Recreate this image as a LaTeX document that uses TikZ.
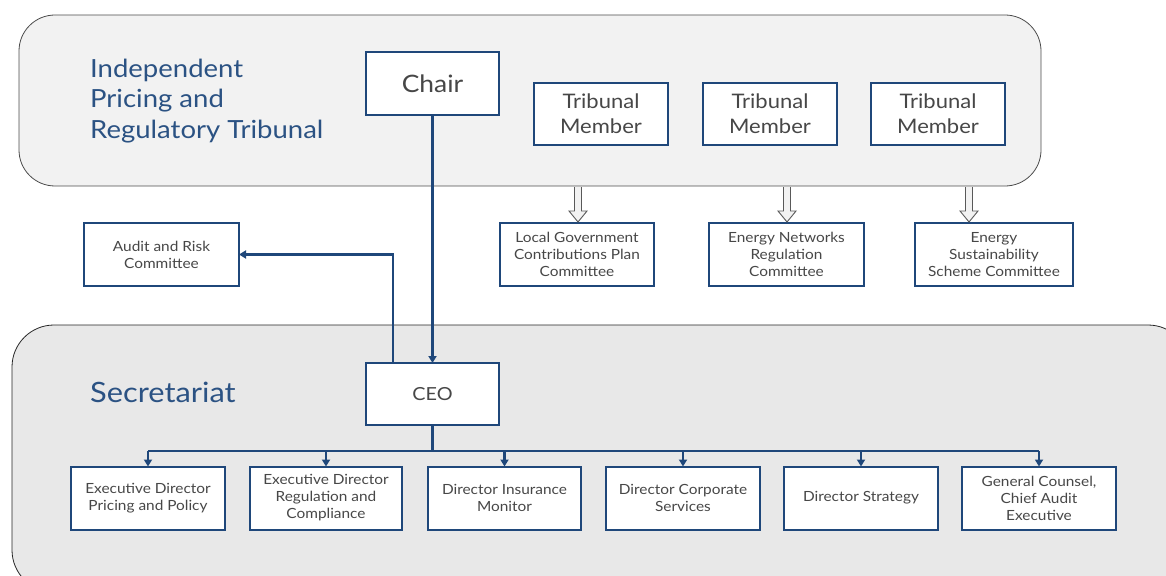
\documentclass[tikz,border=0pt]{standalone}
\usepackage{fontspec}
\setmainfont{Lato}[FakeStretch=1.1]
\usetikzlibrary{arrows.meta,calc}
\definecolor{boxblue}{HTML}{1F477A}
\definecolor{titleblue}{HTML}{2B5283}
\definecolor{txtgray}{HTML}{474747}
\definecolor{topfill}{HTML}{F2F2F2}
\definecolor{botfill}{HTML}{E8E8E8}
\begin{document}
\begin{tikzpicture}[x=1pt,y=-1pt,
  orgbox/.style={draw=boxblue,line width=2pt,fill=white,inner sep=0pt,outer sep=0pt,
    align=center,text=txtgray},
  smallbox/.style={orgbox,minimum width=154pt,minimum height=63pt,font=\fontsize{14}{17}\selectfont},
  bigtxt/.style={font=\fontsize{20}{25}\selectfont},
  link/.style={draw=boxblue,line width=2.2pt},
  linkarrow/.style={link,-{Triangle[width=8pt,length=7pt]}},
  hollow/.style={draw=gray!70!black,line width=0.9pt,fill=topfill}
]
\useasboundingbox (0,0) rectangle (1166,575);
% panels
\draw[fill=topfill,draw=black!70,line width=0.8pt,rounded corners=36pt] (19,15) rectangle (1041,186);
\draw[fill=botfill,draw=black!85,line width=0.8pt,rounded corners=42pt] (12,325) rectangle (1190,592);
% titles
\node[anchor=base west,text=titleblue,font=\fontsize{25}{30}\selectfont,inner sep=0pt] (t1) at (90,78) {Independent};
\node[anchor=base west,text=titleblue,font=\fontsize{25}{30}\selectfont,inner sep=0pt] (t2) at (90,108) {Pricing and};
\node[anchor=base west,text=titleblue,font=\fontsize{25}{30}\selectfont,inner sep=0pt] (t3) at (90,138) {Regulatory Tribunal};
\node[anchor=base west,text=titleblue,font=\fontsize{28}{32}\selectfont,inner sep=0pt] (sec) at (90,402) {Secretariat};
% tribunal
\node[orgbox,minimum width=133pt,minimum height=63pt,font=\fontsize{24}{28}\selectfont] (chair) at (432.5,83.5) {Chair};
\node[orgbox,minimum width=134pt,minimum height=62pt,bigtxt] (tm1) at (601,114) {Tribunal\\Member};
\node[orgbox,minimum width=134pt,minimum height=62pt,bigtxt] (tm2) at (770,114) {Tribunal\\Member};
\node[orgbox,minimum width=134pt,minimum height=62pt,bigtxt] (tm3) at (938,114) {Tribunal\\Member};
% committees
\node[smallbox] (lgcp) at (577,254.5) {Local Government\\Contributions Plan\\Committee};
\node[smallbox,minimum width=155pt] (enr) at (786.5,254.5) {Energy Networks\\Regulation\\Committee};
\node[smallbox,minimum width=158pt] (ess) at (994,254.5) {Energy\\Sustainability\\Scheme Committee};
\node[smallbox,minimum width=155pt] (audit) at (161.5,254.5) {Audit and Risk\\Committee};
% CEO
\node[orgbox,minimum width=133pt,minimum height=62pt,font=\fontsize{18}{22}\selectfont] (ceo) at (432.5,394) {CEO};
% directors
\node[smallbox] (d1) at (148,498) {Executive Director\\Pricing and Policy};
\node[smallbox,minimum width=152pt] (d2) at (326,498) {Executive Director\\Regulation and\\Compliance};
\node[smallbox,minimum width=153pt] (d3) at (504.5,498) {Director Insurance\\Monitor};
\node[smallbox] (d4) at (683,498) {Director Corporate\\Services};
\node[smallbox] (d5) at (861,498) {Director Strategy};
\node[smallbox] (d6) at (1039,498) {General Counsel,\\Chief Audit\\Executive};
% hollow arrows from the tribunal panel to the committees
\foreach \c/\dx in {lgcp/1,enr/0.5,ess/-25}{
  \draw[hollow] ($(\c.north)+(\dx-3.5,-36)$) -- ($(\c.north)+(\dx-3.5,-12)$) -- ($(\c.north)+(\dx-9,-12)$)
    -- ($(\c.north)+(\dx,-1)$) -- ($(\c.north)+(\dx+9,-12)$) -- ($(\c.north)+(\dx+3.5,-12)$) -- ($(\c.north)+(\dx+3.5,-36)$);
}
% connectors
\draw[linkarrow] (chair.south) -- (ceo.north);
\coordinate (cu) at ($(ceo.north west)+(27,0)$);
\draw[linkarrow] (cu) |- (audit.east);
\coordinate (bus) at ($(ceo.south)+(0,26)$);
\draw[link] (ceo.south) -- (bus);
\draw[link,line join=round] (bus -| d1.north) -- (bus -| d6.north);
\foreach \d in {d1,d2,d3,d4,d5,d6}{
  \draw[linkarrow] (bus -| \d.north) -- (\d.north);
}
\end{tikzpicture}
\end{document}
